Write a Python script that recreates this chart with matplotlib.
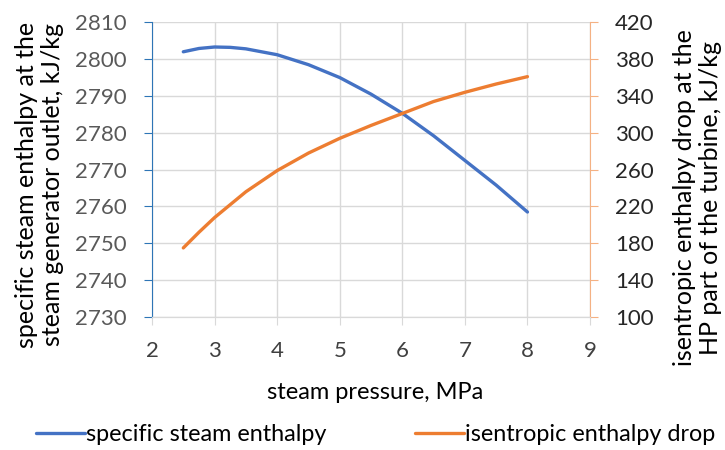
import matplotlib.pyplot as plt

# ==========================
# Data
# ==========================

pressure = [2.5, 2.75, 3.0, 3.25, 3.5, 4.0, 4.5, 5.0, 5.5, 6.0, 6.5, 7.0, 7.5, 8.0]

enthalpy = [2802.0, 2802.9, 2803.3, 2803.2, 2802.8, 2801.2, 2798.5,
            2795.0, 2790.5, 2785.3, 2779.2, 2772.5, 2765.8, 2758.5]

enthalpy_drop = [175, 192, 208, 222, 236, 259, 278,
                 294, 308, 321, 334, 344, 353, 361]

x_ticks = [2, 3, 4, 5, 6, 7, 8, 9]
left_ticks = [2730, 2740, 2750, 2760, 2770, 2780, 2790, 2800, 2810]
right_ticks = [100, 140, 180, 220, 260, 300, 340, 380, 420]

# ==========================
# Plot
# ==========================

plt.rcParams['font.family'] = ['Lato', 'DejaVu Sans']

blue = "#4472C4"
orange = "#ED7D31"
grid_c = "#D9D9D9"

fig = plt.figure(figsize=(7.25, 4.5), dpi=100)
ax = fig.add_axes([0.2097, 0.2956, 0.6041, 0.6548])
ax2 = ax.twinx()

l1, = ax.plot(pressure, enthalpy, color=blue, linewidth=2.4,
              solid_capstyle="round", label="specific steam enthalpy")
l2, = ax2.plot(pressure, enthalpy_drop, color=orange, linewidth=2.4,
               solid_capstyle="round", label="isentropic enthalpy drop")

ax.set_xlim(2, 9)
ax.set_ylim(2730, 2810)
ax2.set_ylim(100, 420)
ax.set_xticks(x_ticks)
ax.set_yticks(left_ticks)
ax2.set_yticks(right_ticks)

ax.grid(True, color=grid_c, linewidth=1)
ax.set_axisbelow(True)

for a in (ax, ax2):
    a.spines["top"].set_visible(False)
    a.spines["bottom"].set_color(grid_c)
ax.spines["left"].set_color("#2E75B6")
ax.spines["right"].set_visible(False)
ax2.spines["left"].set_visible(False)
ax2.spines["right"].set_color("#F4B183")

ax.tick_params(axis="y", direction="out", length=6, color="#2E75B6",
               labelsize=16, labelcolor="#595959", pad=12)
ax.tick_params(axis="x", direction="out", length=6, color=grid_c,
               labelsize=16, labelcolor="#404040", pad=11)
ax2.tick_params(axis="y", direction="out", length=6, color="#F4B183",
                labelsize=16, labelcolor="#262626", pad=12)

fig.text(0.517, 0.128, "steam pressure, MPa", fontsize=17,
         ha="center", va="center")
fig.text(0.054, 0.59, "specific steam enthalpy at the\nsteam generator outlet, kJ/kg",
         fontsize=18, rotation=90, ha="center", va="center", linespacing=1.15)
fig.text(0.962, 0.56, "isentropic enthalpy drop at the\nHP part of the turbine, kJ/kg",
         fontsize=18, rotation=90, ha="center", va="center", linespacing=1.15)

fig.legend(handles=[l1, l2], loc="center", bbox_to_anchor=(0.518, 0.035),
           ncol=2, frameon=False, fontsize=16.8, handlelength=2.1,
           handletextpad=0.05, columnspacing=3.8)

plt.savefig("out.png")
